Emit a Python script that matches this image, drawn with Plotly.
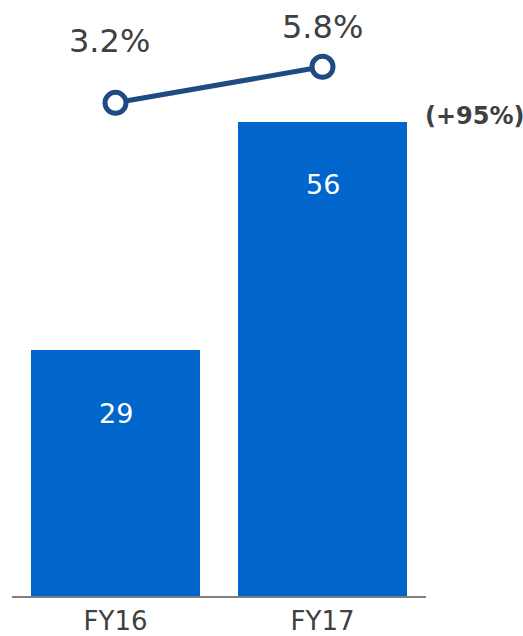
import plotly.graph_objects as go

categories = ["FY16", "FY17"]
bar_values = [29, 56]
ratio_values = [3.2, 5.8]
ratio_labels = ["3.2%", "5.8%"]
growth_label = "(+95%)"

BAR_COLOR = "#0066CC"
LINE_COLOR = "#1F4A82"
TEXT_COLOR = "#404040"
FONT = "DejaVu Sans, Verdana, sans-serif"

fig = go.Figure()
fig.add_trace(go.Bar(
    x=categories, y=bar_values, marker=dict(color=BAR_COLOR, line=dict(width=0)),
    width=0.82, showlegend=False, hoverinfo="skip",
))
fig.add_trace(go.Scatter(
    x=categories, y=ratio_values, yaxis="y2", mode="lines+markers",
    line=dict(color=LINE_COLOR, width=5),
    marker=dict(size=21, color="white", line=dict(color=LINE_COLOR, width=5)),
    showlegend=False, hoverinfo="skip",
))

annotations = []
for c, v in zip(categories, bar_values):
    annotations.append(dict(x=c, y=v, xref="x", yref="y", text=str(v), showarrow=False,
                            yanchor="middle", yshift=-63,
                            font=dict(family=FONT, size=27, color="white")))
label_shifts = [62, 40]
label_xshift = [-6, 0]
for c, v, t, s, xs in zip(categories, ratio_values, ratio_labels, label_shifts, label_xshift):
    annotations.append(dict(x=c, y=v, xref="x", yref="y2", text=t, showarrow=False,
                            yanchor="middle", yshift=s, xshift=xs,
                            font=dict(family=FONT, size=32, color=TEXT_COLOR)))
annotations.append(dict(x=0.993, y=bar_values[-1], xref="paper", yref="y", text="<b>" + growth_label + "</b>",
                        showarrow=False, xanchor="left", yanchor="middle", yshift=6,
                        font=dict(family=FONT, size=24, color=TEXT_COLOR)))

fig.update_layout(
    width=523, height=636,
    margin=dict(l=12, r=97, t=10, b=40),
    paper_bgcolor="white", plot_bgcolor="white",
    bargap=0,
    xaxis=dict(range=[-0.5, 1.5], showline=True, linecolor="#808080", linewidth=2,
               showgrid=False, zeroline=False, ticks="", automargin=False,
               ticklabelstandoff=1,
               tickfont=dict(family=FONT, size=26, color=TEXT_COLOR)),
    yaxis=dict(range=[0, 69.2], visible=False, showgrid=False, zeroline=False),
    yaxis2=dict(range=[-32.4, 9.9], overlaying="y", visible=False, showgrid=False, zeroline=False),
    annotations=annotations,
)

fig.write_html("out.html", config={"displayModeBar": False},
               post_script="document.body.style.margin='0';document.body.style.overflow='hidden';")
